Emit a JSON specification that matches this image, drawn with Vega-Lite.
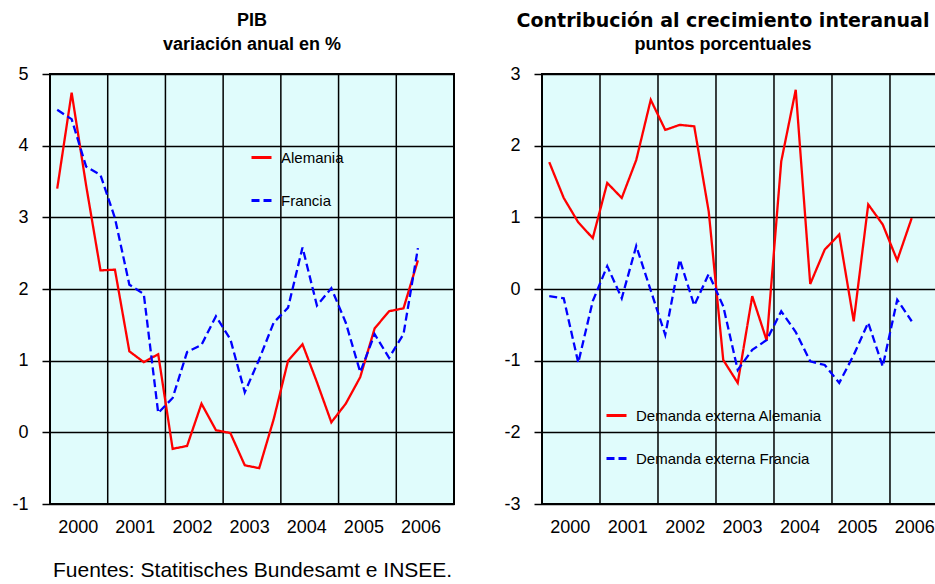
{
  "$schema": "https://vega.github.io/schema/vega-lite/v6.json",
  "padding": {"left": 10, "top": 11, "right": 0, "bottom": 0},
  "spacing": 47,
  "title": {"text": "Fuentes: Statitisches Bundesamt e INSEE.", "orient": "bottom", "anchor": "start", "fontSize": 21, "fontWeight": "normal", "color": "black", "font": "Liberation Sans", "offset": 23, "dx": 42},
  "resolve": {"scale": {"color": "independent", "strokeDash": "independent"}, "legend": {"color": "independent", "strokeDash": "independent"}},
  "datasets": {
    "years": [{"y": 2001}, {"y": 2002}, {"y": 2003}, {"y": 2004}, {"y": 2005}, {"y": 2006}],
    "pib": [
      {"t": 2000.125, "s": "Alemania", "v": 3.40}, {"t": 2000.375, "s": "Alemania", "v": 4.74}, {"t": 2000.625, "s": "Alemania", "v": 3.45}, {"t": 2000.875, "s": "Alemania", "v": 2.26},
      {"t": 2001.125, "s": "Alemania", "v": 2.27}, {"t": 2001.375, "s": "Alemania", "v": 1.13}, {"t": 2001.625, "s": "Alemania", "v": 0.98}, {"t": 2001.875, "s": "Alemania", "v": 1.09},
      {"t": 2002.125, "s": "Alemania", "v": -0.23}, {"t": 2002.375, "s": "Alemania", "v": -0.19}, {"t": 2002.625, "s": "Alemania", "v": 0.40}, {"t": 2002.875, "s": "Alemania", "v": 0.03},
      {"t": 2003.125, "s": "Alemania", "v": -0.01}, {"t": 2003.375, "s": "Alemania", "v": -0.46}, {"t": 2003.625, "s": "Alemania", "v": -0.50}, {"t": 2003.875, "s": "Alemania", "v": 0.18},
      {"t": 2004.125, "s": "Alemania", "v": 1.00}, {"t": 2004.375, "s": "Alemania", "v": 1.23}, {"t": 2004.625, "s": "Alemania", "v": 0.70}, {"t": 2004.875, "s": "Alemania", "v": 0.14},
      {"t": 2005.125, "s": "Alemania", "v": 0.40}, {"t": 2005.375, "s": "Alemania", "v": 0.77}, {"t": 2005.625, "s": "Alemania", "v": 1.45}, {"t": 2005.875, "s": "Alemania", "v": 1.69},
      {"t": 2006.125, "s": "Alemania", "v": 1.73}, {"t": 2006.375, "s": "Alemania", "v": 2.40},
      {"t": 2000.125, "s": "Francia", "v": 4.50}, {"t": 2000.375, "s": "Francia", "v": 4.37}, {"t": 2000.625, "s": "Francia", "v": 3.71}, {"t": 2000.875, "s": "Francia", "v": 3.59},
      {"t": 2001.125, "s": "Francia", "v": 2.99}, {"t": 2001.375, "s": "Francia", "v": 2.06}, {"t": 2001.625, "s": "Francia", "v": 1.93}, {"t": 2001.875, "s": "Francia", "v": 0.27},
      {"t": 2002.125, "s": "Francia", "v": 0.48}, {"t": 2002.375, "s": "Francia", "v": 1.12}, {"t": 2002.625, "s": "Francia", "v": 1.22}, {"t": 2002.875, "s": "Francia", "v": 1.62},
      {"t": 2003.125, "s": "Francia", "v": 1.30}, {"t": 2003.375, "s": "Francia", "v": 0.56}, {"t": 2003.625, "s": "Francia", "v": 1.02}, {"t": 2003.875, "s": "Francia", "v": 1.53},
      {"t": 2004.125, "s": "Francia", "v": 1.74}, {"t": 2004.375, "s": "Francia", "v": 2.58}, {"t": 2004.625, "s": "Francia", "v": 1.77}, {"t": 2004.875, "s": "Francia", "v": 2.01},
      {"t": 2005.125, "s": "Francia", "v": 1.53}, {"t": 2005.375, "s": "Francia", "v": 0.84}, {"t": 2005.625, "s": "Francia", "v": 1.37}, {"t": 2005.875, "s": "Francia", "v": 1.04},
      {"t": 2006.125, "s": "Francia", "v": 1.37}, {"t": 2006.375, "s": "Francia", "v": 2.57}
    ],
    "contrib": [
      {"t": 2000.125, "s": "Demanda externa Alemania", "v": 1.77}, {"t": 2000.375, "s": "Demanda externa Alemania", "v": 1.27}, {"t": 2000.625, "s": "Demanda externa Alemania", "v": 0.93}, {"t": 2000.875, "s": "Demanda externa Alemania", "v": 0.71},
      {"t": 2001.125, "s": "Demanda externa Alemania", "v": 1.48}, {"t": 2001.375, "s": "Demanda externa Alemania", "v": 1.27}, {"t": 2001.625, "s": "Demanda externa Alemania", "v": 1.80}, {"t": 2001.875, "s": "Demanda externa Alemania", "v": 2.64},
      {"t": 2002.125, "s": "Demanda externa Alemania", "v": 2.22}, {"t": 2002.375, "s": "Demanda externa Alemania", "v": 2.29}, {"t": 2002.625, "s": "Demanda externa Alemania", "v": 2.27}, {"t": 2002.875, "s": "Demanda externa Alemania", "v": 1.08},
      {"t": 2003.125, "s": "Demanda externa Alemania", "v": -0.99}, {"t": 2003.375, "s": "Demanda externa Alemania", "v": -1.31}, {"t": 2003.625, "s": "Demanda externa Alemania", "v": -0.10}, {"t": 2003.875, "s": "Demanda externa Alemania", "v": -0.72},
      {"t": 2004.125, "s": "Demanda externa Alemania", "v": 1.78}, {"t": 2004.375, "s": "Demanda externa Alemania", "v": 2.78}, {"t": 2004.625, "s": "Demanda externa Alemania", "v": 0.07}, {"t": 2004.875, "s": "Demanda externa Alemania", "v": 0.55},
      {"t": 2005.125, "s": "Demanda externa Alemania", "v": 0.76}, {"t": 2005.375, "s": "Demanda externa Alemania", "v": -0.45}, {"t": 2005.625, "s": "Demanda externa Alemania", "v": 1.18}, {"t": 2005.875, "s": "Demanda externa Alemania", "v": 0.90},
      {"t": 2006.125, "s": "Demanda externa Alemania", "v": 0.40}, {"t": 2006.375, "s": "Demanda externa Alemania", "v": 0.99},
      {"t": 2000.125, "s": "Demanda externa Francia", "v": -0.10}, {"t": 2000.375, "s": "Demanda externa Francia", "v": -0.13}, {"t": 2000.625, "s": "Demanda externa Francia", "v": -1.03}, {"t": 2000.875, "s": "Demanda externa Francia", "v": -0.17},
      {"t": 2001.125, "s": "Demanda externa Francia", "v": 0.32}, {"t": 2001.375, "s": "Demanda externa Francia", "v": -0.13}, {"t": 2001.625, "s": "Demanda externa Francia", "v": 0.60}, {"t": 2001.875, "s": "Demanda externa Francia", "v": -0.02},
      {"t": 2002.125, "s": "Demanda externa Francia", "v": -0.64}, {"t": 2002.375, "s": "Demanda externa Francia", "v": 0.41}, {"t": 2002.625, "s": "Demanda externa Francia", "v": -0.23}, {"t": 2002.875, "s": "Demanda externa Francia", "v": 0.21},
      {"t": 2003.125, "s": "Demanda externa Francia", "v": -0.24}, {"t": 2003.375, "s": "Demanda externa Francia", "v": -1.13}, {"t": 2003.625, "s": "Demanda externa Francia", "v": -0.85}, {"t": 2003.875, "s": "Demanda externa Francia", "v": -0.71},
      {"t": 2004.125, "s": "Demanda externa Francia", "v": -0.31}, {"t": 2004.375, "s": "Demanda externa Francia", "v": -0.60}, {"t": 2004.625, "s": "Demanda externa Francia", "v": -1.01}, {"t": 2004.875, "s": "Demanda externa Francia", "v": -1.06},
      {"t": 2005.125, "s": "Demanda externa Francia", "v": -1.31}, {"t": 2005.375, "s": "Demanda externa Francia", "v": -0.92}, {"t": 2005.625, "s": "Demanda externa Francia", "v": -0.47}, {"t": 2005.875, "s": "Demanda externa Francia", "v": -1.08},
      {"t": 2006.125, "s": "Demanda externa Francia", "v": -0.15}, {"t": 2006.375, "s": "Demanda externa Francia", "v": -0.45}
    ]
  },
  "hconcat": [
    {
      "width": 404,
      "height": 430,
      "title": {"text": "PIB", "subtitle": "variación anual en %", "frame": "group", "anchor": "middle", "fontSize": 18, "fontWeight": "bold", "offset": 11, "color": "black", "font": "Liberation Sans", "subtitleFont": "Liberation Sans", "subtitleFontSize": 18, "subtitleFontWeight": "bold", "subtitleColor": "black", "subtitlePadding": 6},
      "layer": [
        {
          "data": {"name": "years"},
          "mark": {"type": "rule", "color": "black", "strokeWidth": 1.5},
          "encoding": {"x": {"field": "y", "type": "quantitative", "scale": {"domain": [2000, 2007]}}}
        },
        {
          "data": {"name": "pib"},
          "mark": {"type": "line", "strokeWidth": 2.3},
          "encoding": {
            "x": {"field": "t", "type": "quantitative", "scale": {"domain": [2000, 2007], "nice": false, "zero": false},
                  "axis": {"title": null, "values": [2000.48, 2001.47, 2002.46, 2003.45, 2004.44, 2005.43, 2006.42], "labelExpr": "'' + floor(datum.value)", "grid": false, "ticks": false, "tickSize": 0, "domain": false, "labelPadding": 14}},
            "y": {"field": "v", "type": "quantitative", "scale": {"domain": [-1, 5], "nice": false, "zero": false},
                  "axis": {"title": null, "values": [-1, 0, 1, 2, 3, 4, 5], "labelExpr": "'' + datum.value"}},
            "color": {"field": "s", "type": "nominal", "scale": {"domain": ["Alemania", "Francia"], "range": ["#FF0000", "#0000FF"]},
                      "legend": {"title": null, "orient": "none", "legendX": 200, "legendY": 72}},
            "strokeDash": {"field": "s", "type": "nominal", "scale": {"domain": ["Alemania", "Francia"], "range": [[1, 0], [8, 4]]},
                      "legend": {"title": null, "orient": "none", "legendX": 200, "legendY": 72}}
          }
        }
      ]
    },
    {
      "width": 396,
      "height": 430,
      "title": {"text": "Contribución al crecimiento interanual", "subtitle": "puntos porcentuales", "frame": "group", "anchor": "middle", "dx": -17, "fontSize": 19, "fontWeight": "bold", "offset": 11, "color": "black", "font": "DejaVu Sans", "subtitleFont": "Liberation Sans", "subtitleFontSize": 18, "subtitleFontWeight": "bold", "subtitleColor": "black", "subtitlePadding": 5},
      "layer": [
        {
          "data": {"name": "years"},
          "mark": {"type": "rule", "color": "black", "strokeWidth": 1.5},
          "encoding": {"x": {"field": "y", "type": "quantitative", "scale": {"domain": [2000, 2006.828]}}}
        },
        {
          "data": {"name": "contrib"},
          "mark": {"type": "line", "strokeWidth": 2.3},
          "encoding": {
            "x": {"field": "t", "type": "quantitative", "scale": {"domain": [2000, 2006.828], "nice": false, "zero": false},
                  "axis": {"title": null, "values": [2000.48, 2001.47, 2002.46, 2003.45, 2004.44, 2005.43, 2006.42], "labelExpr": "'' + floor(datum.value)", "grid": false, "ticks": false, "tickSize": 0, "domain": false, "labelPadding": 14}},
            "y": {"field": "v", "type": "quantitative", "scale": {"domain": [-3, 3], "nice": false, "zero": false},
                  "axis": {"title": null, "values": [-3, -2, -1, 0, 1, 2, 3], "labelExpr": "'' + datum.value"}},
            "color": {"field": "s", "type": "nominal", "scale": {"domain": ["Demanda externa Alemania", "Demanda externa Francia"], "range": ["#FF0000", "#0000FF"]},
                      "legend": {"title": null, "orient": "none", "legendX": 63, "legendY": 330}},
            "strokeDash": {"field": "s", "type": "nominal", "scale": {"domain": ["Demanda externa Alemania", "Demanda externa Francia"], "range": [[1, 0], [8, 4]]},
                      "legend": {"title": null, "orient": "none", "legendX": 63, "legendY": 330}}
          }
        }
      ]
    }
  ],
  "config": {
    "font": "Liberation Sans",
    "background": "white",
    "view": {"fill": "#E0FCFC", "stroke": "black", "strokeWidth": 2},
    "axis": {"labelFont": "Liberation Sans", "labelFontSize": 18, "labelColor": "black", "gridColor": "black", "gridWidth": 1.5, "gridOpacity": 1, "tickColor": "black", "tickSize": 8, "tickWidth": 1.5, "labelPadding": 14, "domain": false},
    "legend": {"symbolType": "stroke", "symbolSize": 400, "symbolStrokeWidth": 3, "labelFontSize": 15, "labelFont": "Liberation Sans", "labelColor": "black", "labelOffset": 8, "rowPadding": 23, "padding": 0, "labelLimit": 300}
  }
}
